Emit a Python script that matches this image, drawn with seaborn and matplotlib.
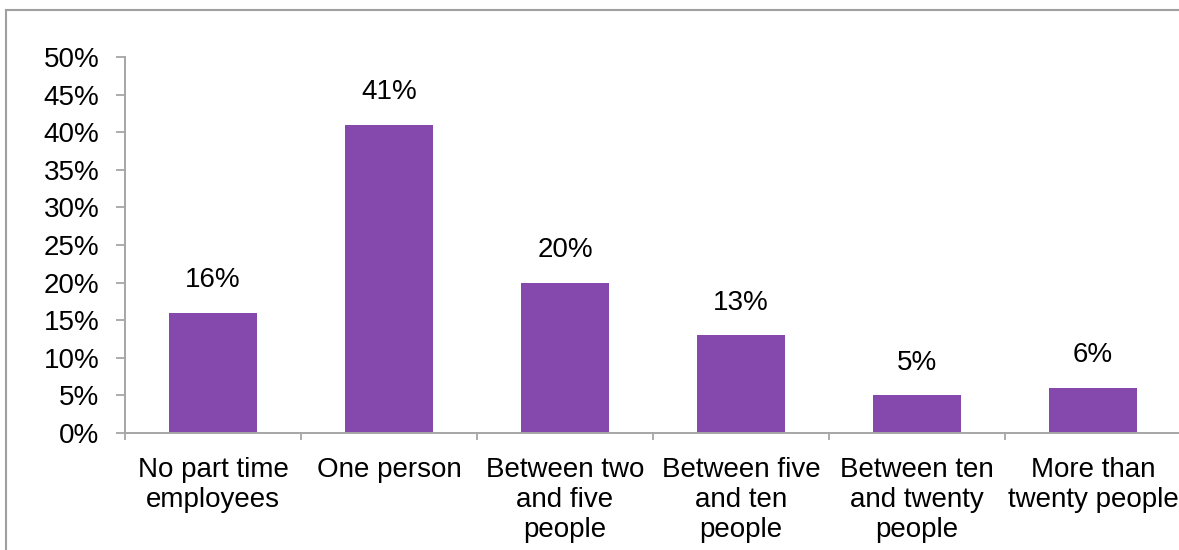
import matplotlib
matplotlib.use("Agg")
import matplotlib.pyplot as plt
import matplotlib.patches as mpatches
from matplotlib.ticker import FixedLocator, PercentFormatter
import seaborn as sns
import pandas as pd

categories = ["No part time\nemployees", "One person", "Between two\nand five\npeople",
              "Between five\nand ten\npeople", "Between ten\nand twenty\npeople",
              "More than\ntwenty people"]
values = [16, 41, 20, 13, 5, 6]
value_labels = ["16%", "41%", "20%", "13%", "5%", "6%"]
y_ticks = [0, 5, 10, 15, 20, 25, 30, 35, 40, 45, 50]

sns.set_theme(style="white")
plt.rcParams['font.family'] = ['Liberation Sans', 'DejaVu Sans']

FS = 20
W, H = 1179, 550
fig = plt.figure(figsize=(W / 100, H / 100), dpi=100)
ax = fig.add_axes([125 / W, 1 - 433 / H, (1181 - 125) / W, (433 - 57) / H])

df = pd.DataFrame({"cat": categories, "val": values})
sns.barplot(data=df, x="cat", y="val", color="#8548AD", saturation=1, width=0.5,
            linewidth=0, ax=ax)

ax.set_xlim(-0.5, 5.5)
ax.set_ylim(0, 50)
ax.set_xlabel("")
ax.set_ylabel("")
ax.yaxis.set_major_locator(FixedLocator(y_ticks))
ax.yaxis.set_major_formatter(PercentFormatter(decimals=0))

spine_c = "#A6A6A6"
for s in ["top", "right"]:
    ax.spines[s].set_visible(False)
for s in ["left", "bottom"]:
    ax.spines[s].set_color(spine_c)
    ax.spines[s].set_linewidth(1.4)

ax.tick_params(axis="y", which="major", direction="out", length=6.5, width=1.3, color=spine_c,
               labelsize=FS, labelcolor="black", pad=12, left=True)
ax.tick_params(axis="x", which="major", length=0, labelsize=FS, labelcolor="black", pad=17)
ax.set_xticks(range(len(categories)))
ax.set_xticklabels(categories, linespacing=1.2)
ax.set_xticks([i - 0.5 for i in range(len(categories) + 1)], minor=True)
ax.tick_params(axis="x", which="minor", direction="out", length=5, width=1.3, color=spine_c, bottom=True)

for i, (v, lab) in enumerate(zip(values, value_labels)):
    ax.annotate(lab, (i, v), xytext=(0, 14), textcoords="offset points",
                ha="center", va="bottom", fontsize=FS, color="black")

# outer chart border
fig.patches.append(mpatches.Rectangle((6 / W, -0.1), 1.2, 1 - 10 / H + 0.1,
                                      transform=fig.transFigure, fill=False,
                                      edgecolor="#A0A0A0", linewidth=1.5))

fig.savefig("out.png", dpi=100)
